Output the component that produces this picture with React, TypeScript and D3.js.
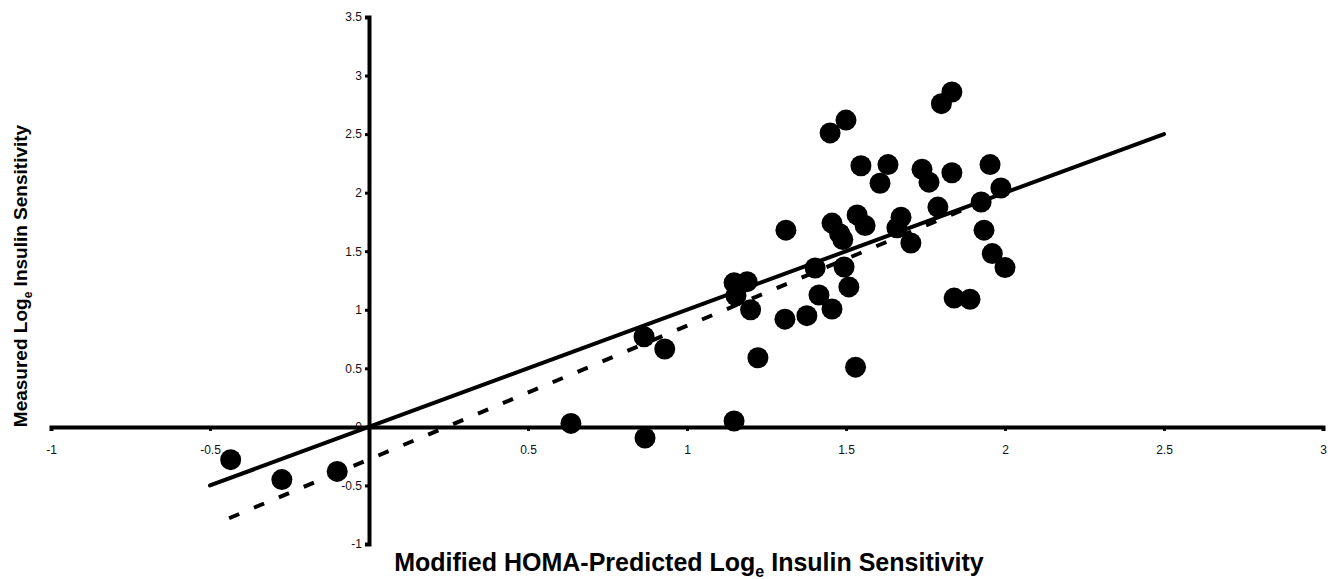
import React, { useEffect, useRef } from "react";
import * as d3 from "d3";

const predicted = [
  -0.435, -0.274, -0.1, 0.635, 0.868, 0.865, 0.93, 1.148, 1.189, 1.154, 1.2, 1.223, 1.148,
  1.311, 1.308, 1.377, 1.403, 1.415, 1.456, 1.494, 1.509, 1.53, 1.456, 1.48, 1.49, 1.535,
  1.56, 1.5, 1.45, 1.547, 1.632, 1.607, 1.739, 1.761, 1.8, 1.833, 1.833, 1.953, 1.987,
  1.925, 1.934, 1.96, 1.789, 1.673, 1.66, 1.704, 2.0, 1.84, 1.89,
];
const measured = [
  -0.28, -0.45, -0.38, 0.03, -0.095, 0.77, 0.665, 1.23, 1.24, 1.12, 1.0, 0.59, 0.05,
  1.68, 0.92, 0.95, 1.357, 1.126, 1.007, 1.365, 1.195, 0.51, 1.74, 1.65, 1.6, 1.81,
  1.72, 2.62, 2.51, 2.23, 2.24, 2.08, 2.2, 2.09, 2.76, 2.86, 2.17, 2.24, 2.04,
  1.92, 1.68, 1.48, 1.877, 1.79, 1.7, 1.57, 1.36, 1.1, 1.09,
];

// line of identity and the fitted regression line
const identityLine = [[-0.5, -0.5], [2.5, 2.5]];
const regressionLine = [[-0.44, -0.78], [1.97, 1.97]];

const xTicks = [-1, -0.5, 0.5, 1, 1.5, 2, 2.5, 3];
const yTicks = [-1, -0.5, 0, 0.5, 1, 1.5, 2, 2.5, 3, 3.5];

export default function App() {
  const width = 1333;
  const height = 579;
  const gxRef = useRef<SVGGElement>(null);
  const gyRef = useRef<SVGGElement>(null);

  const x = d3.scaleLinear().domain([-1, 3]).range([51, 1323]);
  const y = d3.scaleLinear().domain([-1, 3.5]).range([544, 17]);

  const line = d3.line<number[]>().x(d => x(d[0])).y(d => y(d[1]));

  useEffect(() => {
    const fmt = (d: any) => String(d);

    const gx = d3.select(gxRef.current);
    gx.selectAll("*").remove();
    gx.call(d3.axisBottom(x).tickValues(xTicks).tickSize(4).tickPadding(15).tickFormat(fmt));
    gx.select(".domain").attr("stroke-width", 4).attr("stroke", "#000");
    gx.selectAll(".tick line").attr("stroke-width", 3).attr("stroke", "#000");
    gx.selectAll("text").attr("font-size", 12).attr("fill", "#111");
    gx.attr("font-family", "Arial, 'Liberation Sans', sans-serif");

    const gy = d3.select(gyRef.current);
    gy.selectAll("*").remove();
    gy.call(d3.axisLeft(y).tickValues(yTicks).tickSize(4).tickPadding(3).tickFormat(fmt));
    gy.select(".domain").attr("stroke-width", 4).attr("stroke", "#000");
    gy.selectAll(".tick line").attr("stroke-width", 3).attr("stroke", "#000");
    gy.selectAll("text").attr("font-size", 12).attr("fill", "#111");
    gy.attr("font-family", "Arial, 'Liberation Sans', sans-serif");
  }, []);

  return (
    <svg
      width={width}
      height={height}
      style={{ position: "absolute", left: 0, top: 0, background: "#fff" }}
      fontFamily="Arial, 'Liberation Sans', sans-serif"
    >
      <rect width={width} height={height} fill="#fff" />
      <g ref={gxRef} transform={`translate(0,${y(0)})`} />
      <g ref={gyRef} transform={`translate(${x(0)},0)`} />

      <path d={line(identityLine) || ""} stroke="#000" strokeWidth={4} fill="none" strokeLinecap="round" />
      <path d={line(regressionLine) || ""} stroke="#000" strokeWidth={4} fill="none" strokeDasharray="11,16" />

      {predicted.map((p, i) => (
        <circle key={i} cx={x(p)} cy={y(measured[i])} r={10.5} fill="#000" />
      ))}

      <text x={689} y={571} textAnchor="middle" fontSize={25} fontWeight="bold" fill="#000">
        Modified HOMA-Predicted Log
        <tspan fontSize={16} dy={6}>e</tspan>
        <tspan dy={-6}> Insulin Sensitivity</tspan>
      </text>

      <text
        transform="translate(27,276) rotate(-90)"
        textAnchor="middle"
        fontSize={19}
        fontWeight="bold"
        fill="#000"
      >
        Measured Log
        <tspan fontSize={12} dy={5}>e</tspan>
        <tspan dy={-5}> Insulin Sensitivity</tspan>
      </text>
    </svg>
  );
}
